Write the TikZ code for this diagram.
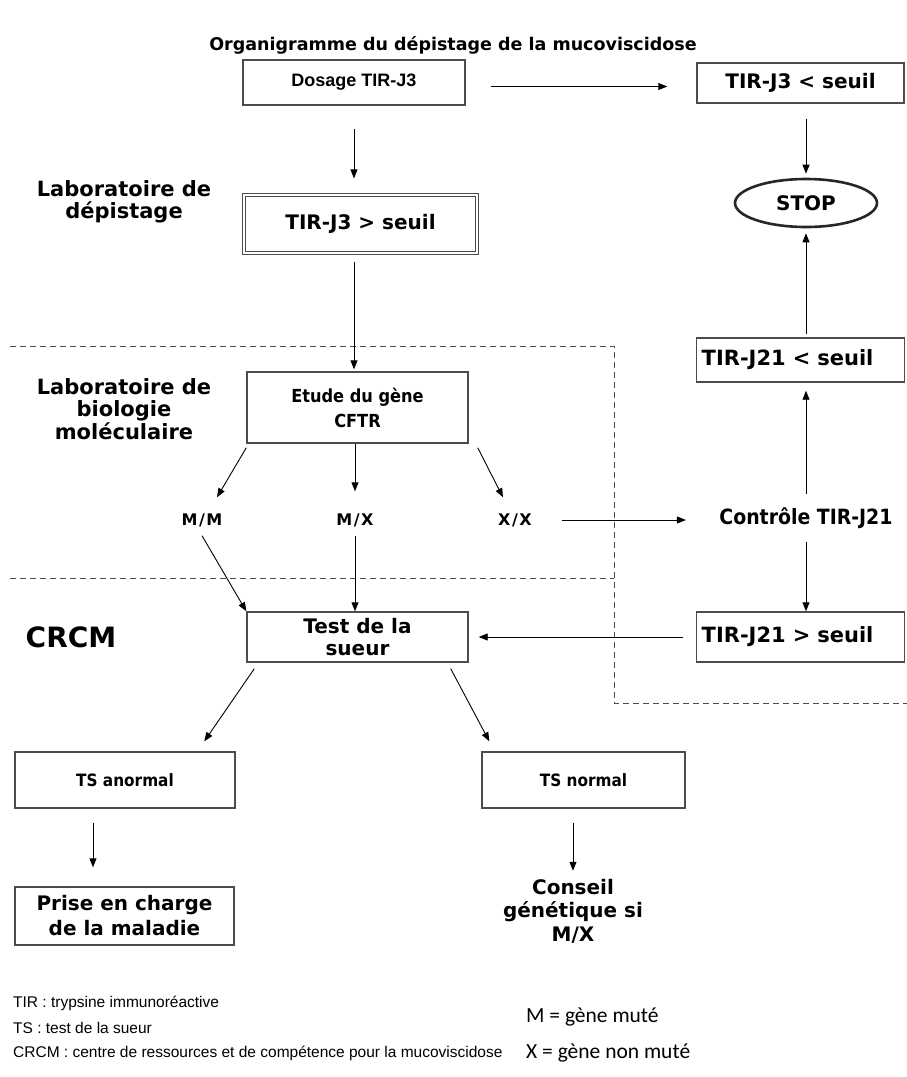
\documentclass[tikz,border=0pt]{standalone}
\usepackage{fontspec}
\setmainfont{DejaVu Sans}
\newfontfamily\verd{DejaVu Sans}
\newfontfamily\tah{DejaVu Sans Condensed}
\newfontfamily\ari{Liberation Sans}
\newfontfamily\calfont{Carlito}
\usetikzlibrary{shapes.geometric,arrows.meta}
\begin{document}
\begin{tikzpicture}[x=1pt,y=-1pt,
  box/.style={draw=black!70, line width=1.4pt, rectangle, inner sep=2pt, align=center},
  arr/.style={-{Triangle[length=9pt,width=7pt]}, line width=0.9pt},
  dsh/.style={dash pattern=on 6pt off 4pt, line width=1pt, draw=black!70},
  vb/.style n args={2}{font=\verd\bfseries\fontsize{#1}{#2}\selectfont},
  tb/.style n args={2}{font=\tah\bfseries\fontsize{#1}{#2}\selectfont},
  lab/.style={font=\verd\bfseries\fontsize{21}{22.5}\selectfont, align=center},
  mx/.style={font=\verd\bfseries\fontsize{16}{18}\selectfont, inner sep=0pt, text height=11pt, text depth=0pt},
  leg/.style={font=\ari\fontsize{15.5}{18}\selectfont, anchor=west, inner sep=0pt},
  legc/.style={font=\calfont\fontsize{21.5}{24}\selectfont, anchor=west, inner sep=0pt}]
\useasboundingbox (0,0) rectangle (907,1077);

% title
\node[vb={17.5}{20}] (title) at (453,45) {Organigramme du dépistage de la mucoviscidose};

% top
\node[box, font=\ari\bfseries\fontsize{18}{20}\selectfont, minimum width=222pt, minimum height=45pt] (dos) at (354,82.5) {Dosage TIR-J3};
\node[box, vb={20}{22}, minimum width=207pt, minimum height=40pt] (j3lo) at (800.5,83) {TIR-J3 < seuil};
\node[ellipse, draw=black!85, line width=2.6pt, vb={20}{22}, minimum width=142pt, minimum height=48pt, inner sep=0pt] (stop) at (806,203) {STOP};
\node[lab] (labdep) at (124,202) {Laboratoire de\\dépistage};
\node[box, vb={20}{22}, double=white, double distance=2pt, line width=1.2pt, minimum width=233pt, minimum height=58pt] (j3hi) at (360.5,224) {TIR-J3 > seuil};

% region borders
\draw[dsh] (10,346) -- (614,346) -- (614,703) -- (907,703);
\draw[dsh] (10,578) -- (614,578);

% molecular biology
\node[lab] (labbio) at (124,409) {Laboratoire de\\biologie\\moléculaire};
\node[box, tb={18}{25}, minimum width=221pt, minimum height=71pt] (etude) at (357.5,407.5) {Etude du gène\\CFTR};
\node[mx] (mm) at (202,520) {M\kern1.5pt/\kern1.5pt M};
\node[mx] (mxn) at (355,520) {M\kern1.5pt/\kern1.5pt X};
\node[mx] (xx) at (515,520) {X\kern1.5pt/\kern1.5pt X};
\node[tb={21}{24}] (ctrl) at (806,518) {Contrôle TIR-J21};
\node[box, vb={21}{24}, anchor=west, text width=198pt, align=left, inner xsep=5pt, minimum height=44pt] (j21lo) at (696,360) {TIR-J21 < seuil};

% CRCM
\node[font=\verd\bfseries\fontsize{28}{30}\selectfont] (crcm) at (71,637) {CRCM};
\node[box, vb={20}{22}, minimum width=221pt, minimum height=50pt] (test) at (357.5,637) {Test de la\\sueur};
\node[box, vb={21}{24}, anchor=west, text width=198pt, align=left, inner xsep=5pt, minimum height=50pt] (j21hi) at (696,637) {TIR-J21 > seuil};

\node[box, tb={17}{20}, minimum width=220pt, minimum height=56pt] (tsa) at (125,780) {TS anormal};
\node[box, tb={17}{20}, minimum width=203pt, minimum height=56pt] (tsn) at (583.5,780) {TS normal};
\node[box, vb={20}{25}, minimum width=219pt, minimum height=58pt] (prise) at (124.5,916) {Prise en charge\\de la maladie};
\node[vb={20}{23.5}, align=center, inner sep=2pt] (cons) at (573,911) {Conseil\\génétique si\\M/X};

% legend
\node[leg] (l1) at (13,1003) {TIR : trypsine immunoréactive};
\node[leg] (l2) at (13,1028) {TS : test de la sueur};
\node[leg] (l3) at (13,1053) {CRCM : centre de ressources et de compétence pour la mucoviscidose};
\node[legc] (l4) at (526,1017) {M = gène muté};
\node[legc] (l5) at (526,1053) {X = gène non muté};

% connectors
\draw[arr, shorten <=25pt, shorten >=29pt] ([yshift=-4pt]dos.east) -- ([yshift=-4pt]dos.east -| j3lo.west);
\draw[arr, shorten <=15pt, shorten >=4pt] (stop.north |- j3lo.south) -- (stop.north);
\draw[arr, shorten <=23pt, shorten >=16pt] (dos.south) -- (dos.south |- j3hi.north);
\draw[arr, shorten <=8pt, shorten >=2pt] (dos.south |- j3hi.south) -- (dos.south |- etude.north);
\draw[arr, shorten <=3pt, shorten >=5pt] (stop.south |- j21lo.north) -- (stop.south);
\draw[arr, shorten <=10pt, shorten >=8pt] (ctrl.north) -- (ctrl.north |- j21lo.south);
\draw[arr, shorten <=10pt] (ctrl.south) -- (ctrl.south |- j21hi.north);

\draw[arr] ([yshift=-4pt]etude.south west) -- ([xshift=15pt,yshift=17pt]mm.north);
\draw[arr, shorten >=23pt] (etude.south -| mxn.north) -- (mxn.north);
\draw[arr] ([xshift=9pt,yshift=-4pt]etude.south east) -- ([xshift=-12pt,yshift=17pt]xx.north);
\draw[arr, shorten <=30pt, shorten >=30pt] (xx.east) -- (xx.east -| ctrl.west);

\draw[arr] ([yshift=-10pt]mm.south) -- (test.north west);
\draw[arr] ([yshift=-10pt]mxn.south) -- (mxn.south |- test.north);
\draw[arr, shorten <=13pt, shorten >=10pt] (j21hi.west) -- (test.east);

\draw[arr] ([xshift=8pt,yshift=-6pt]test.south west) -- ([xshift=190pt,yshift=10pt]tsa.north west);
\draw[arr] ([xshift=-18pt,yshift=-6pt]test.south east) -- ([xshift=8pt,yshift=10pt]tsn.north west);
\draw[arr, shorten <=14pt, shorten >=19pt] ([xshift=-32pt]tsa.south) -- ([xshift=-32pt]tsa.south |- prise.north);
\draw[arr, shorten <=14pt, shorten >=6pt] (tsn.south -| cons.north) -- (cons.north);
\end{tikzpicture}
\end{document}
